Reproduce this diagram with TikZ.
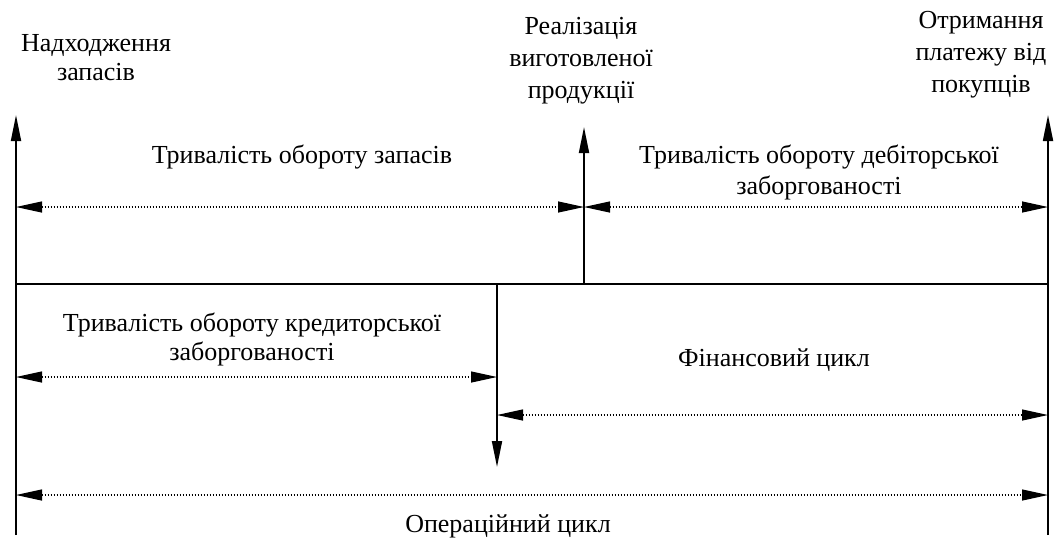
\documentclass[tikz,border=0pt]{standalone}
\usepackage{fontspec}
\setmainfont{Liberation Serif}
\usetikzlibrary{arrows.meta}
\begin{document}
\begin{tikzpicture}[x=1pt,y=-1pt,
  axis/.style={line width=1.8pt,-{Triangle[length=26pt,width=10pt]}},
  plain/.style={line width=1.8pt},
  span/.style={line width=1.2pt,dash pattern=on 1.2pt off 1.8pt,
     {Triangle[length=26pt,width=11pt]}-{Triangle[length=26pt,width=11pt]}},
  lbl/.style={font=\fontsize{26}{#1}\selectfont,inner sep=0pt,align=center},
  lbl/.default=29]
\useasboundingbox (0,0) rectangle (1054,539);
% points
\coordinate (Lt) at (16,115);
\coordinate (Lb) at (16,535);
\coordinate (Mt) at (584,127);
\coordinate (Mb) at (584,284);
\coordinate (Rt) at (1048,115);
\coordinate (Rb) at (1048,535);
\coordinate (H1) at (16,284);
\coordinate (H2) at (1048,284);
\coordinate (Kt) at (497,284);
\coordinate (Kb) at (497,467);
\coordinate (a1l) at (16,207);
\coordinate (a1r) at (584,207);
\coordinate (a2r) at (1048,207);
\coordinate (a3l) at (16,377);
\coordinate (a3r) at (497,377);
\coordinate (a4l) at (497,415);
\coordinate (a4r) at (1048,415);
\coordinate (a5l) at (16,495);
\coordinate (a5r) at (1048,495);
% lines
\draw[axis] (Lb) -- (Lt);
\draw[axis] (Rb) -- (Rt);
\draw[axis] (Mb) -- (Mt);
\draw[plain] (H1) -- (H2);
\draw[axis] (Kt) -- (Kb);
\draw[span] (a1l) -- (a1r);
\draw[span] (a1r) -- (a2r);
\draw[span] (a3l) -- (a3r);
\draw[span] (a4l) -- (a4r);
\draw[span] (a5l) -- (a5r);
% labels
\node[lbl] (t1) at (96,59.7) {\strut Надходження\\\strut запасів};
\node[lbl=32] (t2) at (581,59.6) {\strut Реалізація\\\strut виготовленої\\\strut продукції};
\node[lbl=32] (t3) at (981,53.6) {\strut Отримання\\\strut платежу від\\\strut покупців};
\node[lbl] (d1) at (302,157.2) {\strut Тривалість обороту запасів};
\node[lbl=31] (d2) at (819,172.3) {\strut Тривалість обороту дебіторської\\\strut заборгованості};
\node[lbl] (d3) at (252,339.7) {\strut Тривалість обороту кредиторської\\\strut заборгованості};
\node[lbl] (d4) at (774,360.2) {\strut Фінансовий цикл};
\node[lbl] (d5) at (508,526.2) {\strut Операційний цикл};
\end{tikzpicture}
\end{document}
